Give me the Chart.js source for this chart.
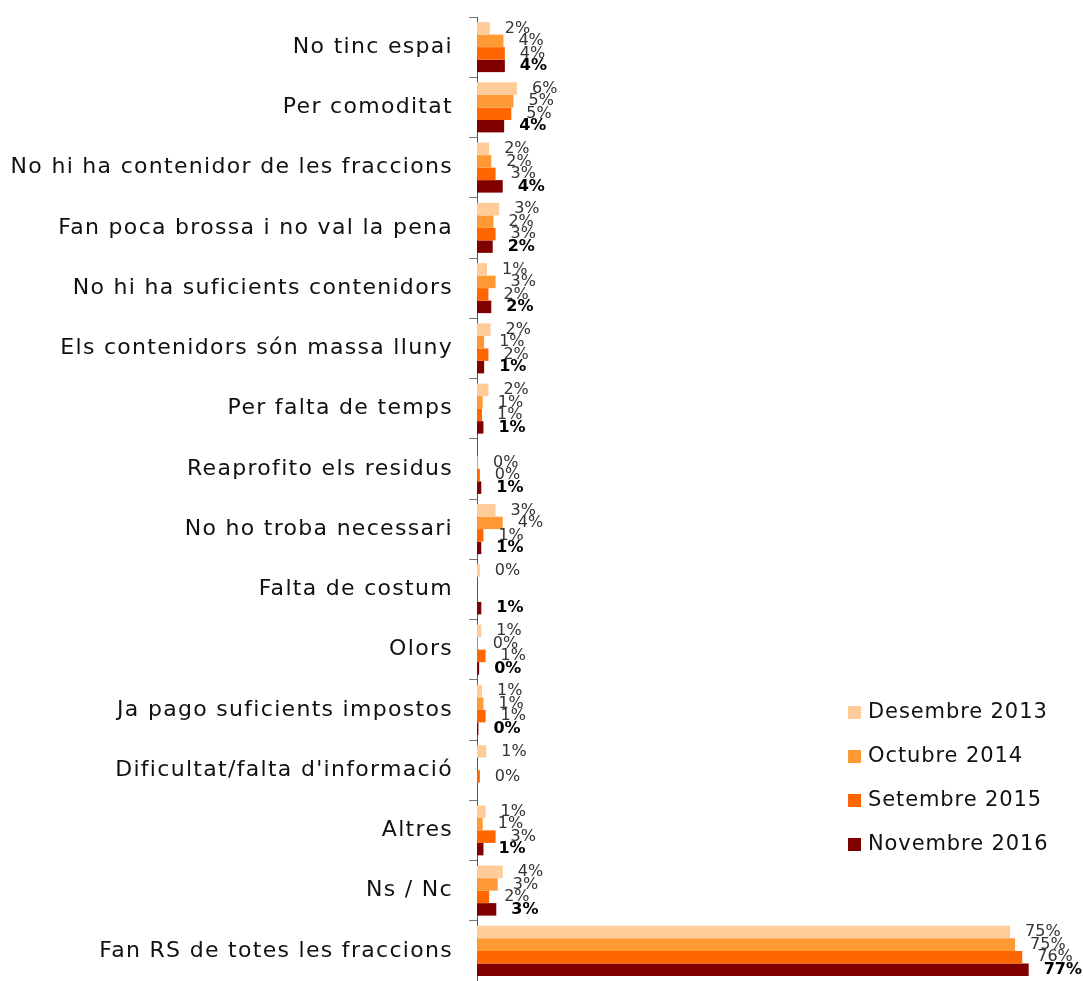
<!DOCTYPE html>
<html>
<head>
<meta charset="utf-8">
<script src="https://cdn.jsdelivr.net/npm/chart.js@4.4.0/dist/chart.umd.min.js"></script>
<style>
  html, body { margin: 0; padding: 0; background: #fff; }
  #wrap { position: relative; width: 1083px; height: 981px; }
  #legend { position: absolute; left: 848px; top: 694px; font-family: "DejaVu Sans", sans-serif; font-size: 21px; letter-spacing: 0.9px; color: #111; }
  .item { height: 44px; line-height: 34px; white-space: nowrap; }
  .box { display: inline-block; width: 13px; height: 13px; margin-right: 7px; vertical-align: -1px; }
</style>
</head>
<body>
<div id="wrap">
  <canvas id="chart" width="1083" height="981"></canvas>
  <div id="legend"></div>
</div>
<script>
const categories = [
  'No tinc espai',
  'Per comoditat',
  'No hi ha contenidor de les fraccions',
  'Fan poca brossa i no val la pena',
  'No hi ha suficients contenidors',
  'Els contenidors són massa lluny',
  'Per falta de temps',
  'Reaprofito els residus',
  'No ho troba necessari',
  'Falta de costum',
  'Olors',
  'Ja pago suficients impostos',
  "Dificultat/falta d'informació",
  'Altres',
  'Ns / Nc',
  'Fan RS de totes les fraccions'
];

const seriesNames = ['Desembre 2013', 'Octubre 2014', 'Setembre 2015', 'Novembre 2016'];
const seriesColors = ['#FFCC99', '#FF9933', '#FF6600', '#800000'];

// % de respostes per enquesta (null = sense resposta)
const des2013 = [1.8, 5.6, 1.7, 3.1, 1.4, 1.9, 1.6, null, 2.6, 0.4, 0.6, 0.7, 1.3, 1.2, 3.6, 74.6];
const oct2014 = [3.7, 5.1, 2.0, 2.3, 2.6, 1.0, 0.8, 0.15, 3.6, null, 0.1, 0.9, null, 0.8, 2.9, 75.3];
const set2015 = [3.9, 4.8, 2.6, 2.6, 1.6, 1.6, 0.7, 0.4, 0.9, null, 1.2, 1.2, 0.4, 2.6, 1.7, 76.3];
const nov2016 = [3.9, 3.8, 3.6, 2.2, 2.0, 1.0, 0.9, 0.6, 0.6, 0.6, 0.3, 0.2, null, 0.9, 2.7, 77.2];

const seriesData = [des2013, oct2014, set2015, nov2016];

// espaiat de lletra per a les etiquetes de l'eix (font ampla)
const wideText = {
  id: 'wideText',
  beforeDraw(chart) { chart.ctx.letterSpacing = '1.3px'; },
  beforeDatasetsDraw(chart) { chart.ctx.letterSpacing = '0px'; }
};

// etiquetes de valor a la dreta de cada barra
const valueLabels = {
  id: 'valueLabels',
  afterDatasetsDraw(chart) {
    const ctx = chart.ctx;
    ctx.save();
    ctx.textBaseline = 'middle';
    ctx.textAlign = 'left';
    chart.data.datasets.forEach((ds, i) => {
      const meta = chart.getDatasetMeta(i);
      const last = i === chart.data.datasets.length - 1;
      ctx.font = (last ? 'bold ' : '') + '16px "DejaVu Sans", sans-serif';
      ctx.fillStyle = last ? '#000' : '#333';
      meta.data.forEach((bar, j) => {
        const v = ds.data[j];
        if (v === null || v === undefined) return;
        ctx.fillText(Math.round(v) + '%', bar.x + 15, bar.y);
      });
    });
    ctx.restore();
  }
};

const chart = new Chart(document.getElementById('chart'), {
  type: 'bar',
  data: {
    labels: categories,
    datasets: seriesData.map((d, i) => ({
      label: seriesNames[i],
      data: d,
      backgroundColor: seriesColors[i],
      borderWidth: 0,
      categoryPercentage: 0.83,
      barPercentage: 1.0
    }))
  },
  options: {
    indexAxis: 'y',
    responsive: false,
    animation: false,
    layout: { padding: { top: 17, right: 0, bottom: 0, left: 0 } },
    plugins: {
      legend: { display: false },
      tooltip: { enabled: false }
    },
    scales: {
      x: {
        display: false,
        min: 0,
        max: 84.8
      },
      y: {
        afterFit(scale) {
          scale.width = 477;
          scale.paddingTop = 0;
          scale.paddingBottom = 0;
        },
        border: { display: true, color: '#555', width: 1 },
        grid: {
          drawOnChartArea: false,
          drawTicks: true,
          tickLength: 8,
          color: '#777'
        },
        ticks: {
          color: '#111',
          padding: 16,
          font: { family: '"DejaVu Sans", sans-serif', size: 22 }
        }
      }
    }
  },
  plugins: [wideText, valueLabels]
});

// llegenda a mà, a la part baixa dreta
const legend = document.getElementById('legend');
seriesNames.forEach((name, i) => {
  const row = document.createElement('div');
  row.className = 'item';
  row.innerHTML = `<span class="box" style="background:${seriesColors[i]}"></span>${name}`;
  legend.appendChild(row);
});
</script>
</body>
</html>
